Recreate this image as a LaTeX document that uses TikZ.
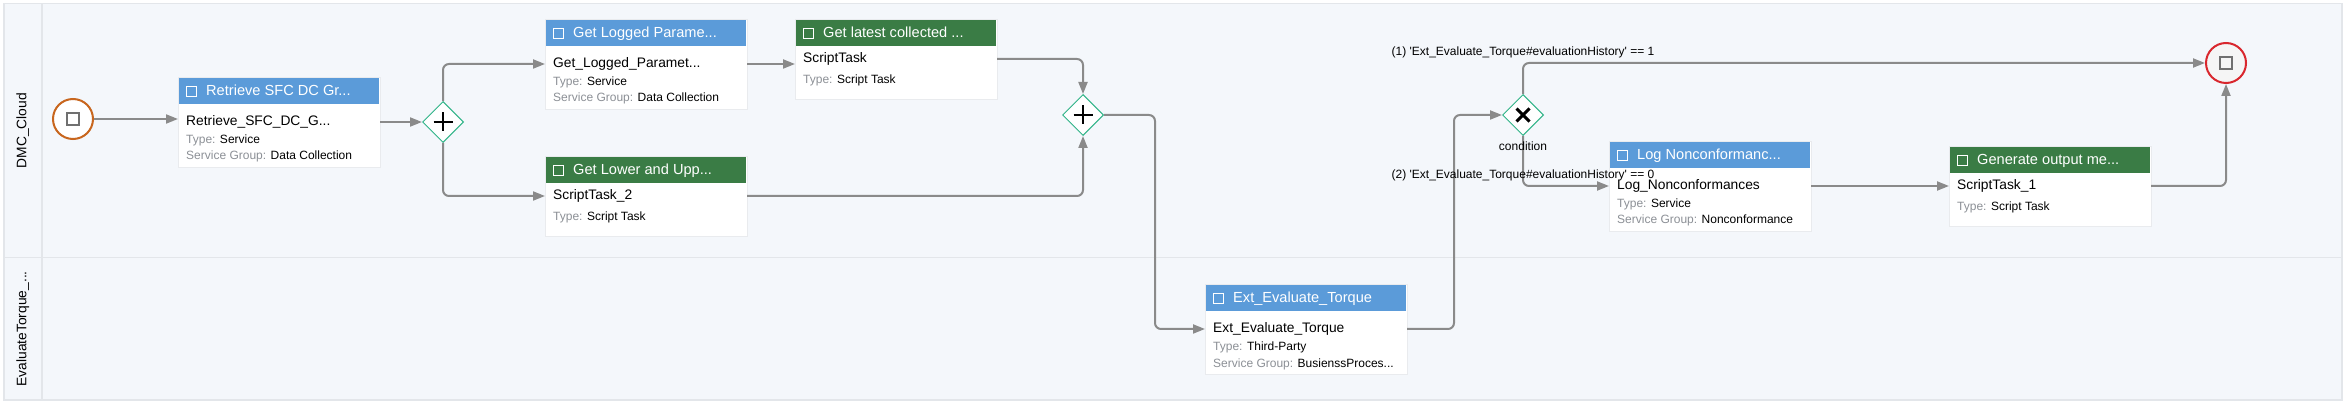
\documentclass[tikz,border=0pt]{standalone}
\usepackage{fontspec}
\setmainfont{Liberation Sans}
\usetikzlibrary{arrows.meta,shapes.geometric,calc}
\definecolor{lanebg}{HTML}{F4F7FB}
\definecolor{framegray}{HTML}{E3E6EA}
\definecolor{hblue}{HTML}{5B9BD9}
\definecolor{hgreen}{HTML}{3A7C45}
\definecolor{gwteal}{HTML}{2FB487}
\definecolor{conngray}{HTML}{8A8A8A}
\definecolor{subgray}{HTML}{8C9096}
\definecolor{startorange}{HTML}{C8661E}
\definecolor{endred}{HTML}{D9272E}
\definecolor{cardline}{HTML}{E9EBEE}
\definecolor{sqgray}{HTML}{707070}
\tikzset{
 lane/.style={draw=framegray, fill=lanebg, line width=1.5pt, anchor=north west, inner sep=0pt},
 lanetxt/.style={rotate=90, font=\fontsize{13.8}{16}\selectfont, inner sep=0pt},
 conn/.style={draw=conngray, line width=2pt, rounded corners=6pt, -{Triangle[length=12pt,width=9pt]}},
 card/.style={draw=cardline, fill=white, line width=1pt, minimum width=202pt, inner sep=0pt, anchor=north west},
 hdr/.style={minimum width=200pt, minimum height=26pt, inner sep=0pt, anchor=north west, draw=none},
 hdrtxt/.style={text=white, font=\fontsize{14.6}{16}\selectfont, anchor=base west, inner sep=0pt},
 icon/.style={draw=white, line width=1.5pt, minimum size=10pt, inner sep=0pt},
 nametxt/.style={font=\fontsize{13.8}{16}\selectfont, anchor=base west, inner sep=0pt},
 subtxt/.style={font=\fontsize{12}{14}\selectfont, anchor=base west, inner sep=0pt},
 lbltxt/.style={font=\fontsize{12}{14}\selectfont, inner sep=0pt},
 gw/.style={diamond, draw=gwteal, fill=white, line width=1pt, minimum width=41pt, minimum height=41pt, inner sep=0pt},
 evsq/.style={draw=sqgray, line width=2pt, minimum size=12pt, inner sep=0pt},
}
\newcommand\svctask[8]{%
 \node[card, minimum height=90pt] (#1) at (#2-1,#3-1) {};
 \node[hdr, fill=#4] (#1h) at (#2,#3) {};
 \node[icon] (#1i) at (#2+12.5,#3+13.5) {};
 \node[hdrtxt] (#1t) at (#2+27,#3+18) {#5};
 \node[nametxt] (#1n) at (#2+7,#3+48) {#6};
 \node[subtxt] (#1a) at (#2+7,#3+66) {\textcolor{subgray}{Type:} #7};
 \node[subtxt] (#1b) at (#2+7,#3+82) {\textcolor{subgray}{Service Group:} #8};
 \coordinate (#1p) at (#2-1,#3+44);
 \coordinate (#1q) at (#2+201,#3+44);
}
\newcommand\scrtask[6]{%
 \node[card, minimum height=80pt] (#1) at (#2-1,#3-1) {};
 \node[hdr, fill=#4] (#1h) at (#2,#3) {};
 \node[icon] (#1i) at (#2+12.5,#3+13.5) {};
 \node[hdrtxt] (#1t) at (#2+27,#3+18) {#5};
 \node[nametxt] (#1n) at (#2+7,#3+43) {#6};
 \node[subtxt] (#1a) at (#2+7,#3+64) {\textcolor{subgray}{Type:} Script Task};
 \coordinate (#1p) at (#2-1,#3+39);
 \coordinate (#1q) at (#2+201,#3+39);
}
\begin{document}
\begin{tikzpicture}[x=1pt,y=-1pt]
\useasboundingbox (0,0) rectangle (2346,403);
\fill[white] (0,0) rectangle (2346,403);
% lanes
\node[lane, minimum width=2338pt, minimum height=254pt] (lane1) at (3,3) {};
\node[lane, minimum width=2338pt, minimum height=142pt] (lane2) at (3,257) {};
\node[lane, minimum width=38pt, minimum height=254pt] (lh1) at (3,3) {};
\node[lane, minimum width=38pt, minimum height=142pt] (lh2) at (3,257) {};
\node[lanetxt] (l1) at (lh1.center) {DMC\_Cloud};
\node[lanetxt] (l2) at (lh2.center) {EvaluateTorque\_...};
% events
\node[circle, draw=startorange, fill=white, line width=2pt, minimum size=40pt, inner sep=0pt] (start) at (73,119) {};
\node[evsq] (starti) at (start.center) {};
\node[circle, draw=endred, fill=black!4, line width=2pt, minimum size=40pt, inner sep=0pt] (end) at (2226,63) {};
\node[evsq] (endi) at (end.center) {};
% tasks
\svctask{t1}{179}{78}{hblue}{Retrieve SFC DC Gr...}{Retrieve\_SFC\_DC\_G...}{Service}{Data Collection}
\svctask{t2}{546}{20}{hblue}{Get Logged Parame...}{Get\_Logged\_Paramet...}{Service}{Data Collection}
\scrtask{t3}{796}{20}{hgreen}{Get latest collected ...}{ScriptTask}
\scrtask{t4}{546}{157}{hgreen}{Get Lower and Upp...}{ScriptTask\_2}
\svctask{t5}{1206}{285}{hblue}{Ext\_Evaluate\_Torque}{Ext\_Evaluate\_Torque}{Third-Party}{BusienssProces...}
\svctask{t6}{1610}{142}{hblue}{Log Nonconformanc...}{Log\_Nonconformances}{Service}{Nonconformance}
\scrtask{t7}{1950}{147}{hgreen}{Generate output me...}{ScriptTask\_1}
% gateways
\node[gw] (g1) at (443,122) {};
\draw[line width=2.6pt] ($(g1.center)+(-9.5,0)$) -- ($(g1.center)+(9.5,0)$) ($(g1.center)+(0,-9.5)$) -- ($(g1.center)+(0,9.5)$);
\node[gw] (g2) at (1083,115) {};
\draw[line width=2.6pt] ($(g2.center)+(-9.5,0)$) -- ($(g2.center)+(9.5,0)$) ($(g2.center)+(0,-9.5)$) -- ($(g2.center)+(0,9.5)$);
\node[gw] (g3) at (1523,115) {};
\draw[line width=3pt] ($(g3.center)+(-6.5,-6.5)$) -- ($(g3.center)+(6.5,6.5)$) ($(g3.center)+(-6.5,6.5)$) -- ($(g3.center)+(6.5,-6.5)$);
\coordinate (b1) at (1155,220);
\coordinate (b2) at (1454,220);
% connectors
\draw[conn] (start.east) -- (t1.west |- start.east);
\draw[conn] (t1q) -- (g1.west);
\draw[conn] (g1.north) |- (t2p);
\draw[conn] (g1.south) |- (t4p);
\draw[conn] (t2q) -- (t3.west |- t2q);
\draw[conn] (t3q) -| (g2.north);
\draw[conn] (t4q) -| (g2.south);
\draw[conn] (g2.east) -| (b1) |- (t5p);
\draw[conn] (t5q) -| (b2) |- (g3.west);
\draw[conn] (g3.north) |- (end.west);
\draw[conn] (g3.south) |- (t6p);
\draw[conn] (t6q) -- (t7.west |- t6q);
\draw[conn] (t7q) -| (end.south);
% labels
\node[lbltxt] (c1) at (1523,52) {(1) \textquotesingle Ext\_Evaluate\_Torque\#evaluationHistory\textquotesingle{} == 1};
\node[lbltxt] (c2) at (1523,175) {(2) \textquotesingle Ext\_Evaluate\_Torque\#evaluationHistory\textquotesingle{} == 0};
\node[lbltxt] (cond) at (1523,146) {condition};
\end{tikzpicture}
\end{document}
